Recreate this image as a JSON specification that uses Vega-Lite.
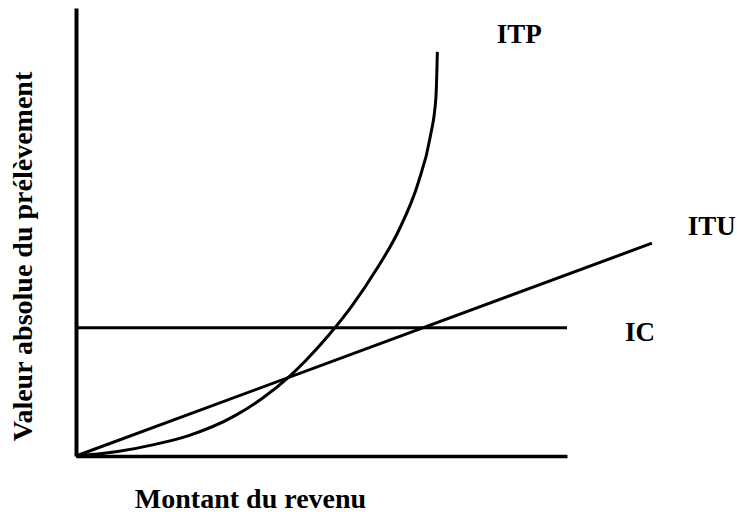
{
  "$schema": "https://vega.github.io/schema/vega-lite/v6.json",
  "autosize": {"type": "none"},
  "width": 491,
  "height": 448,
  "padding": {"left": 76, "top": 8, "right": 170, "bottom": 59},
  "background": "white",
  "config": {"view": {"stroke": null}, "font": "Liberation Serif"},
  "datasets": {
    "curves": [
      {"serie": "ITP", "revenu": 0, "prelevement": 0},
      {"serie": "ITP", "revenu": 8.5, "prelevement": 1.0},
      {"serie": "ITP", "revenu": 16.1, "prelevement": 2.6},
      {"serie": "ITP", "revenu": 22.8, "prelevement": 4.5},
      {"serie": "ITP", "revenu": 32.4, "prelevement": 9.0},
      {"serie": "ITP", "revenu": 38.1, "prelevement": 13.0},
      {"serie": "ITP", "revenu": 43.6, "prelevement": 17.9},
      {"serie": "ITP", "revenu": 46.7, "prelevement": 21.2},
      {"serie": "ITP", "revenu": 51.5, "prelevement": 27.0},
      {"serie": "ITP", "revenu": 56.2, "prelevement": 33.5},
      {"serie": "ITP", "revenu": 61.1, "prelevement": 41.5},
      {"serie": "ITP", "revenu": 65.8, "prelevement": 50.5},
      {"serie": "ITP", "revenu": 69.7, "prelevement": 61.0},
      {"serie": "ITP", "revenu": 72.1, "prelevement": 71.0},
      {"serie": "ITP", "revenu": 73.3, "prelevement": 80.0},
      {"serie": "ITP", "revenu": 73.6, "prelevement": 90.2}
    ],
    "straight": [
      {"serie": "ITU", "revenu": 0, "prelevement": 0},
      {"serie": "ITU", "revenu": 117.3, "prelevement": 47.5},
      {"serie": "IC", "revenu": 0, "prelevement": 28.6},
      {"serie": "IC", "revenu": 100, "prelevement": 28.6}
    ],
    "labels": [
      {"serie": "ITP", "revenu": 85.7, "prelevement": 92.2},
      {"serie": "ITU", "revenu": 124.6, "prelevement": 49.3},
      {"serie": "IC", "revenu": 111.8, "prelevement": 25.7}
    ]
  },
  "encoding": {
    "x": {
      "field": "revenu", "type": "quantitative",
      "scale": {"domain": [0, 100], "nice": false, "zero": false},
      "axis": {
        "title": "Montant du revenu",
        "grid": false, "ticks": false, "labels": false,
        "domainColor": "black", "domainWidth": 3.5,
        "titleFont": "Liberation Serif", "titleFontWeight": "bold", "titleFontSize": 28,
        "titleColor": "black", "titleX": 174, "titleY": 51,
        "titleAlign": "center", "titleBaseline": "alphabetic"
      }
    },
    "y": {
      "field": "prelevement", "type": "quantitative",
      "scale": {"domain": [0, 100], "nice": false, "zero": false},
      "axis": {
        "title": "Valeur absolue du prélèvement",
        "grid": false, "ticks": false, "labels": false,
        "domainColor": "black", "domainWidth": 4,
        "titleFont": "Liberation Serif", "titleFontWeight": "bold", "titleFontSize": 28,
        "titleColor": "black", "titleAngle": 270, "titleX": -45, "titleY": 248,
        "titleAlign": "center", "titleBaseline": "alphabetic"
      }
    }
  },
  "layer": [
    {
      "data": {"name": "curves"},
      "mark": {"type": "line", "color": "black", "strokeWidth": 3, "interpolate": "monotone", "clip": false},
      "encoding": {"detail": {"field": "serie"}}
    },
    {
      "data": {"name": "straight"},
      "mark": {"type": "line", "color": "black", "strokeWidth": 3, "clip": false},
      "encoding": {"detail": {"field": "serie"}}
    },
    {
      "data": {"name": "labels"},
      "mark": {"type": "text", "font": "Liberation Serif", "fontWeight": "bold", "fontSize": 27, "align": "left", "baseline": "alphabetic", "color": "black", "clip": false},
      "encoding": {"text": {"field": "serie"}}
    }
  ]
}
